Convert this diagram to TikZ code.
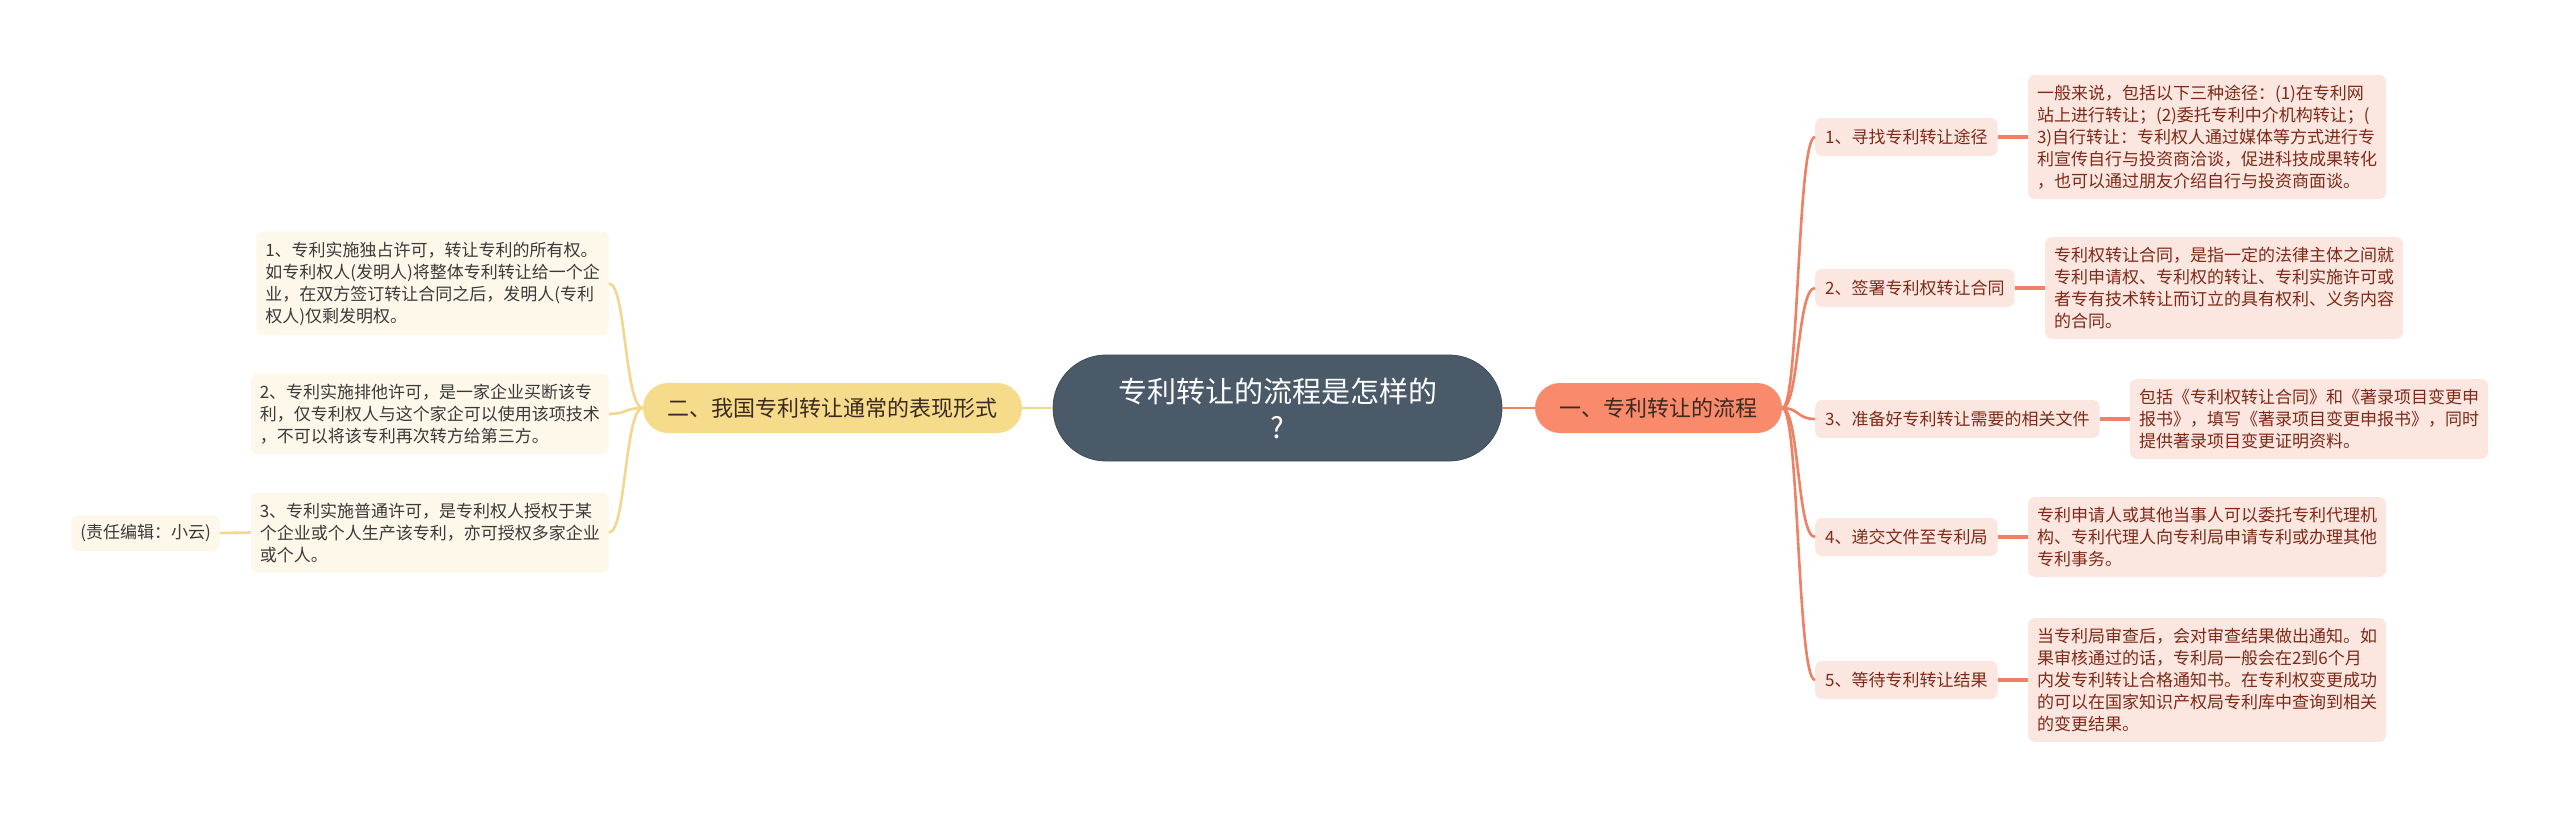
\documentclass[tikz,border=0pt]{standalone}
\usepackage{fontspec}
\setmainfont{Noto Sans CJK SC}
\usetikzlibrary{positioning}
\definecolor{slate}{HTML}{4A5A69}
\definecolor{coral}{HTML}{F98A6B}
\definecolor{coralline}{HTML}{EE8063}
\definecolor{pinkfill}{HTML}{FCE6E0}
\definecolor{redtext}{HTML}{7E2A18}
\definecolor{yel}{HTML}{F6DB8B}
\definecolor{yelline}{HTML}{F2D78D}
\definecolor{cream}{HTML}{FEF8EA}
\definecolor{graytext}{HTML}{3A3A3A}
\definecolor{maintext}{HTML}{3A2A22}
\begin{document}
\begin{tikzpicture}[x=1pt,y=-1pt,
  rootbox/.style={fill=slate, draw=slate!85!black, line width=0.8pt, text=white, rounded corners=53pt,
    minimum width=449pt, minimum height=106pt, inner sep=0pt,
    font=\fontsize{29}{36}\selectfont, align=center},
  rmainbox/.style={fill=coral, text=maintext, rounded corners=25pt, minimum width=247pt,
    minimum height=50pt, inner sep=0pt, font=\fontsize{22}{26}\selectfont},
  lmainbox/.style={fill=yel, text=maintext, rounded corners=25pt, minimum width=379pt,
    minimum height=50pt, inner sep=0pt, font=\fontsize{22}{26}\selectfont},
  rlabel/.style={fill=pinkfill, text=redtext, rounded corners=7pt, minimum height=38pt,
    inner xsep=10pt, inner ysep=4pt, font=\fontsize{17}{22}\selectfont},
  rleaf/.style={fill=pinkfill, text=redtext, rounded corners=7pt, inner xsep=9pt,
    inner ysep=10pt, align=left, font=\fontsize{17}{22}\selectfont},
  lleaf/.style={fill=cream, text=graytext, rounded corners=7pt, inner xsep=9pt,
    inner ysep=10pt, align=left, font=\fontsize{17}{22}\selectfont},
  rlink/.style={draw=coralline, line width=2.6pt},
  rlinkb/.style={draw=coralline, line width=3.4pt},
  llink/.style={draw=yelline, line width=2.6pt}
]
\useasboundingbox[fill=white] (0,0) rectangle (2560,816);

% central and main nodes
\node[rootbox] (root) at (1277.5,408) {专利转让的流程是怎样的\\?};
\node[rmainbox] (rmain) at (1658.5,408) {一、专利转让的流程};
\node[lmainbox] (lmain) at (832.5,408) {二、我国专利转让通常的表现形式};

% right labels
\node[rlabel, anchor=west] (r1) at (1815,137) {1、寻找专利转让途径};
\node[rlabel, anchor=west] (r2) at (1815,288) {2、签署专利权转让合同};
\node[rlabel, anchor=west] (r3) at (1815,419) {3、准备好专利转让需要的相关文件};
\node[rlabel, anchor=west] (r4) at (1815,537) {4、递交文件至专利局};
\node[rlabel, anchor=west] (r5) at (1815,680) {5、等待专利转让结果};

% right leaves
\node[rleaf, right=30pt of r1] (rl1) {一般来说，包括以下三种途径：(1)在专利网\\站上进行转让；(2)委托专利中介机构转让；(\\3)自行转让：专利权人通过媒体等方式进行专\\利宣传自行与投资商洽谈，促进科技成果转化\\，也可以通过朋友介绍自行与投资商面谈。};
\node[rleaf, right=30pt of r2] (rl2) {专利权转让合同，是指一定的法律主体之间就\\专利申请权、专利权的转让、专利实施许可或\\者专有技术转让而订立的具有权利、义务内容\\的合同。};
\node[rleaf, right=30pt of r3] (rl3) {包括《专利权转让合同》和《著录项目变更申\\报书》，填写《著录项目变更申报书》，同时\\提供著录项目变更证明资料。};
\node[rleaf, right=30pt of r4] (rl4) {专利申请人或其他当事人可以委托专利代理机\\构、专利代理人向专利局申请专利或办理其他\\专利事务。};
\node[rleaf, right=30pt of r5] (rl5) {当专利局审查后，会对审查结果做出通知。如\\果审核通过的话，专利局一般会在2到6个月\\内发专利转让合格通知书。在专利权变更成功\\的可以在国家知识产权局专利库中查询到相关\\的变更结果。};

% left leaves
\node[lleaf, anchor=east] (l1) at (609,283.5) {1、专利实施独占许可，转让专利的所有权。\\如专利权人(发明人)将整体专利转让给一个企\\业，在双方签订转让合同之后，发明人(专利\\权人)仅剩发明权。};
\node[lleaf, anchor=east] (l2) at (609,414) {2、专利实施排他许可，是一家企业买断该专\\利，仅专利权人与这个家企可以使用该项技术\\，不可以将该专利再次转方给第三方。};
\node[lleaf, anchor=east] (l3) at (609,532.5) {3、专利实施普通许可，是专利权人授权于某\\个企业或个人生产该专利，亦可授权多家企业\\或个人。};
\node[lleaf, anchor=east, inner ysep=9pt] (note) at (220,533) {(责任编辑：小云)};

% connectors
\draw[rlink] (root.east) -- (rmain.west);
\draw[llink] (root.west) -- (lmain.east);
\foreach \n in {r1,r2,r3,r4,r5}{
  \draw[rlink] (rmain.east) .. controls +(17,0) and +(-18,0) .. (\n.west);
}
\draw[rlinkb] (r1.east) -- (rl1.west);
\draw[rlinkb] (r2.east) -- (rl2.west);
\draw[rlinkb] (r3.east) -- (rl3.west);
\draw[rlinkb] (r4.east) -- (rl4.west);
\draw[rlinkb] (r5.east) -- (rl5.west);
\foreach \n in {l1,l2,l3}{
  \draw[llink] (lmain.west) .. controls +(-18,0) and +(17,0) .. (\n.east);
}
\draw[llink] (l3.west) -- (note.east);
\end{tikzpicture}
\end{document}
